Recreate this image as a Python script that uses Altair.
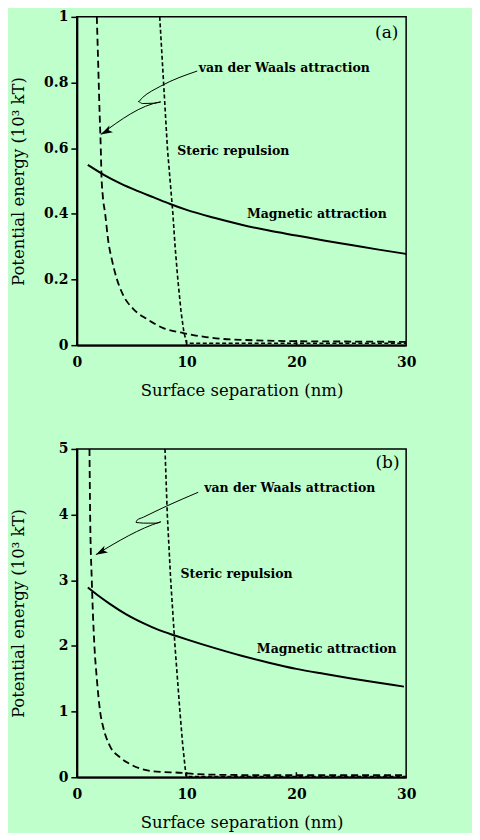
import altair as alt
import pandas as pd

# ---------------- data ----------------
# Panel (a)
mag_a_x = [1, 2.5, 4, 5.5, 7, 8.5, 10, 12.5, 15, 17.5, 20, 22.5, 25, 27.5, 30]
mag_a_y = [0.549, 0.518, 0.492, 0.47, 0.45, 0.43, 0.412, 0.388, 0.367, 0.349, 0.334, 0.319, 0.305, 0.291, 0.278]

vdw_a_x = [1.82, 1.95, 2.08, 2.18, 2.24, 2.35, 2.58, 2.88, 3.18, 3.64, 4.24, 5.15, 6.36, 7.88, 9.7, 11.5, 13.3, 16, 20, 25, 30]
vdw_a_y = [1.0, 0.85, 0.7, 0.6, 0.52, 0.46, 0.4, 0.313, 0.262, 0.202, 0.151, 0.110, 0.080, 0.052, 0.037, 0.026, 0.019, 0.015, 0.012, 0.011, 0.010]

ster_a_x = [7.55, 7.9, 8.25, 8.75, 8.95, 9.2, 9.5, 9.75, 10.0, 30]
ster_a_y = [1.0, 0.8, 0.6, 0.4, 0.3, 0.2, 0.1, 0.04, 0.006, 0.006]

arr_a_x = [10.97, 7.64, 5.97, 5.6, 5.97, 7.03, 7.64, 2.18]
arr_a_y = [0.835, 0.789, 0.754, 0.742, 0.736, 0.737, 0.741, 0.642]

lab_a_text = ["van der Waals attraction", "Steric repulsion", "Magnetic attraction"]
lab_a_x = [11.1, 9.15, 15.5]
lab_a_y = [0.845, 0.592, 0.399]
tag_a = ["(a)"]
tag_a_x = [29.3]
tag_a_y = [0.951]

# Panel (b)
mag_b_x = [1, 2, 3, 4.5, 6, 7.5, 9, 10, 12.5, 15, 17.5, 20, 22.5, 25, 27.5, 29.8]
mag_b_y = [2.89, 2.76, 2.64, 2.48, 2.35, 2.24, 2.155, 2.1, 1.97, 1.85, 1.745, 1.65, 1.575, 1.505, 1.44, 1.38]

vdw_b_x = [1.15, 1.21, 1.36, 1.6, 1.82, 2.12, 2.42, 2.94, 3.94, 4.85, 6.97, 9.7, 10.7, 14, 20, 30]
vdw_b_y = [5.0, 4.0, 3.0, 2.0, 1.5, 1.0, 0.75, 0.5, 0.3, 0.2, 0.09, 0.065, 0.05, 0.035, 0.03, 0.03]

ster_b_x = [8.03, 8.24, 8.55, 8.94, 9.39, 9.64, 9.95, 30]
ster_b_y = [5.0, 4.0, 3.0, 2.0, 1.0, 0.5, 0.01, 0.01]

arr_b_x = [11.06, 8.18, 6.06, 5.45, 5.39, 6.06, 7.27, 7.64, 1.73]
arr_b_y = [4.34, 4.13, 3.96, 3.91, 3.88, 3.87, 3.87, 3.89, 3.39]

lab_b_text = ["van der Waals attraction", "Steric repulsion", "Magnetic attraction"]
lab_b_x = [11.6, 9.45, 16.4]
lab_b_y = [4.41, 3.10, 1.96]
tag_b = ["(b)"]
tag_b_x = [29.4]
tag_b_y = [4.79]

x_ticks = [0, 10, 20, 30]
y_ticks_a = [0, 0.2, 0.4, 0.6, 0.8, 1]
y_ticks_b = [0, 1, 2, 3, 4, 5]
inner_ticks = [10, 20]

X_TITLE = "Surface separation (nm)"
Y_TITLE = "Potential energy (10³ kT)"

# ---------------- styling ----------------
W, H = 330, 329
SERIF = "DejaVu Serif"
BG = "#bfffcc"
ARROW = "M0,0 L-0.32,1 L0,0.75 L0.32,1 Z"


def panel(mx, my, vx, vy, sx, sy, ax, ay, lt, lx, ly, tg, tx, ty, ymax, yvals):
    xenc = alt.X("x:Q", scale=alt.Scale(domain=[0, 30], nice=False, zero=False),
                 axis=alt.Axis(values=x_ticks, title=X_TITLE, ticks=False, labelFlush=False,
                               labelPadding=10, titlePadding=13, format="d"))
    yenc = alt.Y("y:Q", scale=alt.Scale(domain=[0, ymax], nice=False, zero=False),
                 axis=alt.Axis(values=yvals, title=Y_TITLE, format="~g", labelFlush=False,
                               tickSize=6, tickWidth=1.5, labelPadding=3,
                               titleX=-50, titleY=H / 2))

    mag = alt.Chart(pd.DataFrame({"x": mx, "y": my})).mark_line(
        color="black", strokeWidth=2, interpolate="monotone").encode(x=xenc, y=yenc)
    vdw = alt.Chart(pd.DataFrame({"x": vx, "y": vy})).mark_line(
        color="black", strokeWidth=1.8, strokeDash=[7, 4], interpolate="monotone").encode(x=xenc, y=yenc)
    ster = alt.Chart(pd.DataFrame({"x": sx, "y": sy})).mark_line(
        color="black", strokeWidth=1.6, strokeDash=[4, 2.5]).encode(x=xenc, y=yenc)
    arr_df = pd.DataFrame({"x": ax, "y": ay, "i": list(range(len(ax)))})
    arr = alt.Chart(arr_df).mark_line(
        color="black", strokeWidth=1, interpolate="monotone").encode(
        x=xenc, y=yenc, order="i:Q")
    head = alt.Chart(pd.DataFrame({"x": ax[-1:], "y": ay[-1:]})).mark_point(
        shape=ARROW, filled=True, color="black", opacity=1, size=560, angle=242,
        strokeWidth=0).encode(x=xenc, y=yenc)
    labels = alt.Chart(pd.DataFrame({"x": lx, "y": ly, "t": lt})).mark_text(
        font=SERIF, fontSize=12.5, fontWeight="bold", align="left", baseline="middle",
        color="black").encode(x=xenc, y=yenc, text="t:N")
    tag = alt.Chart(pd.DataFrame({"x": tx, "y": ty, "t": tg})).mark_text(
        font=SERIF, fontSize=17, align="right", baseline="middle", color="black").encode(
        x=xenc, y=yenc, text="t:N")
    ticks = alt.Chart(pd.DataFrame({"x": inner_ticks})).mark_rule(
        color="black", strokeWidth=1.5).encode(
        x=xenc, y=alt.value(H), y2=alt.value(H - 5))

    return alt.layer(mag, vdw, ster, arr, head, labels, tag, ticks).properties(
        width=W, height=H)


pa = panel(mag_a_x, mag_a_y, vdw_a_x, vdw_a_y, ster_a_x, ster_a_y, arr_a_x, arr_a_y,
           lab_a_text, lab_a_x, lab_a_y, tag_a, tag_a_x, tag_a_y, 1, y_ticks_a)
pb = panel(mag_b_x, mag_b_y, vdw_b_x, vdw_b_y, ster_b_x, ster_b_y, arr_b_x, arr_b_y,
           lab_b_text, lab_b_x, lab_b_y, tag_b, tag_b_x, tag_b_y, 5, y_ticks_b)

chart = alt.vconcat(pa, pb, spacing=41).properties(
    padding={"left": 2, "top": 0, "right": 55, "bottom": 0},
    background=BG,
).configure_view(
    stroke="black", strokeWidth=1.5
).configure_axis(
    domainColor="black", domainWidth=2, tickColor="black", grid=False,
    labelFont=SERIF, labelFontSize=14, labelFontWeight="bold", labelColor="black",
    titleFont=SERIF, titleFontSize=16.5, titleFontWeight="normal", titleColor="black",
)

chart.save("out.html", embed_options={"renderer": "svg", "actions": False})
